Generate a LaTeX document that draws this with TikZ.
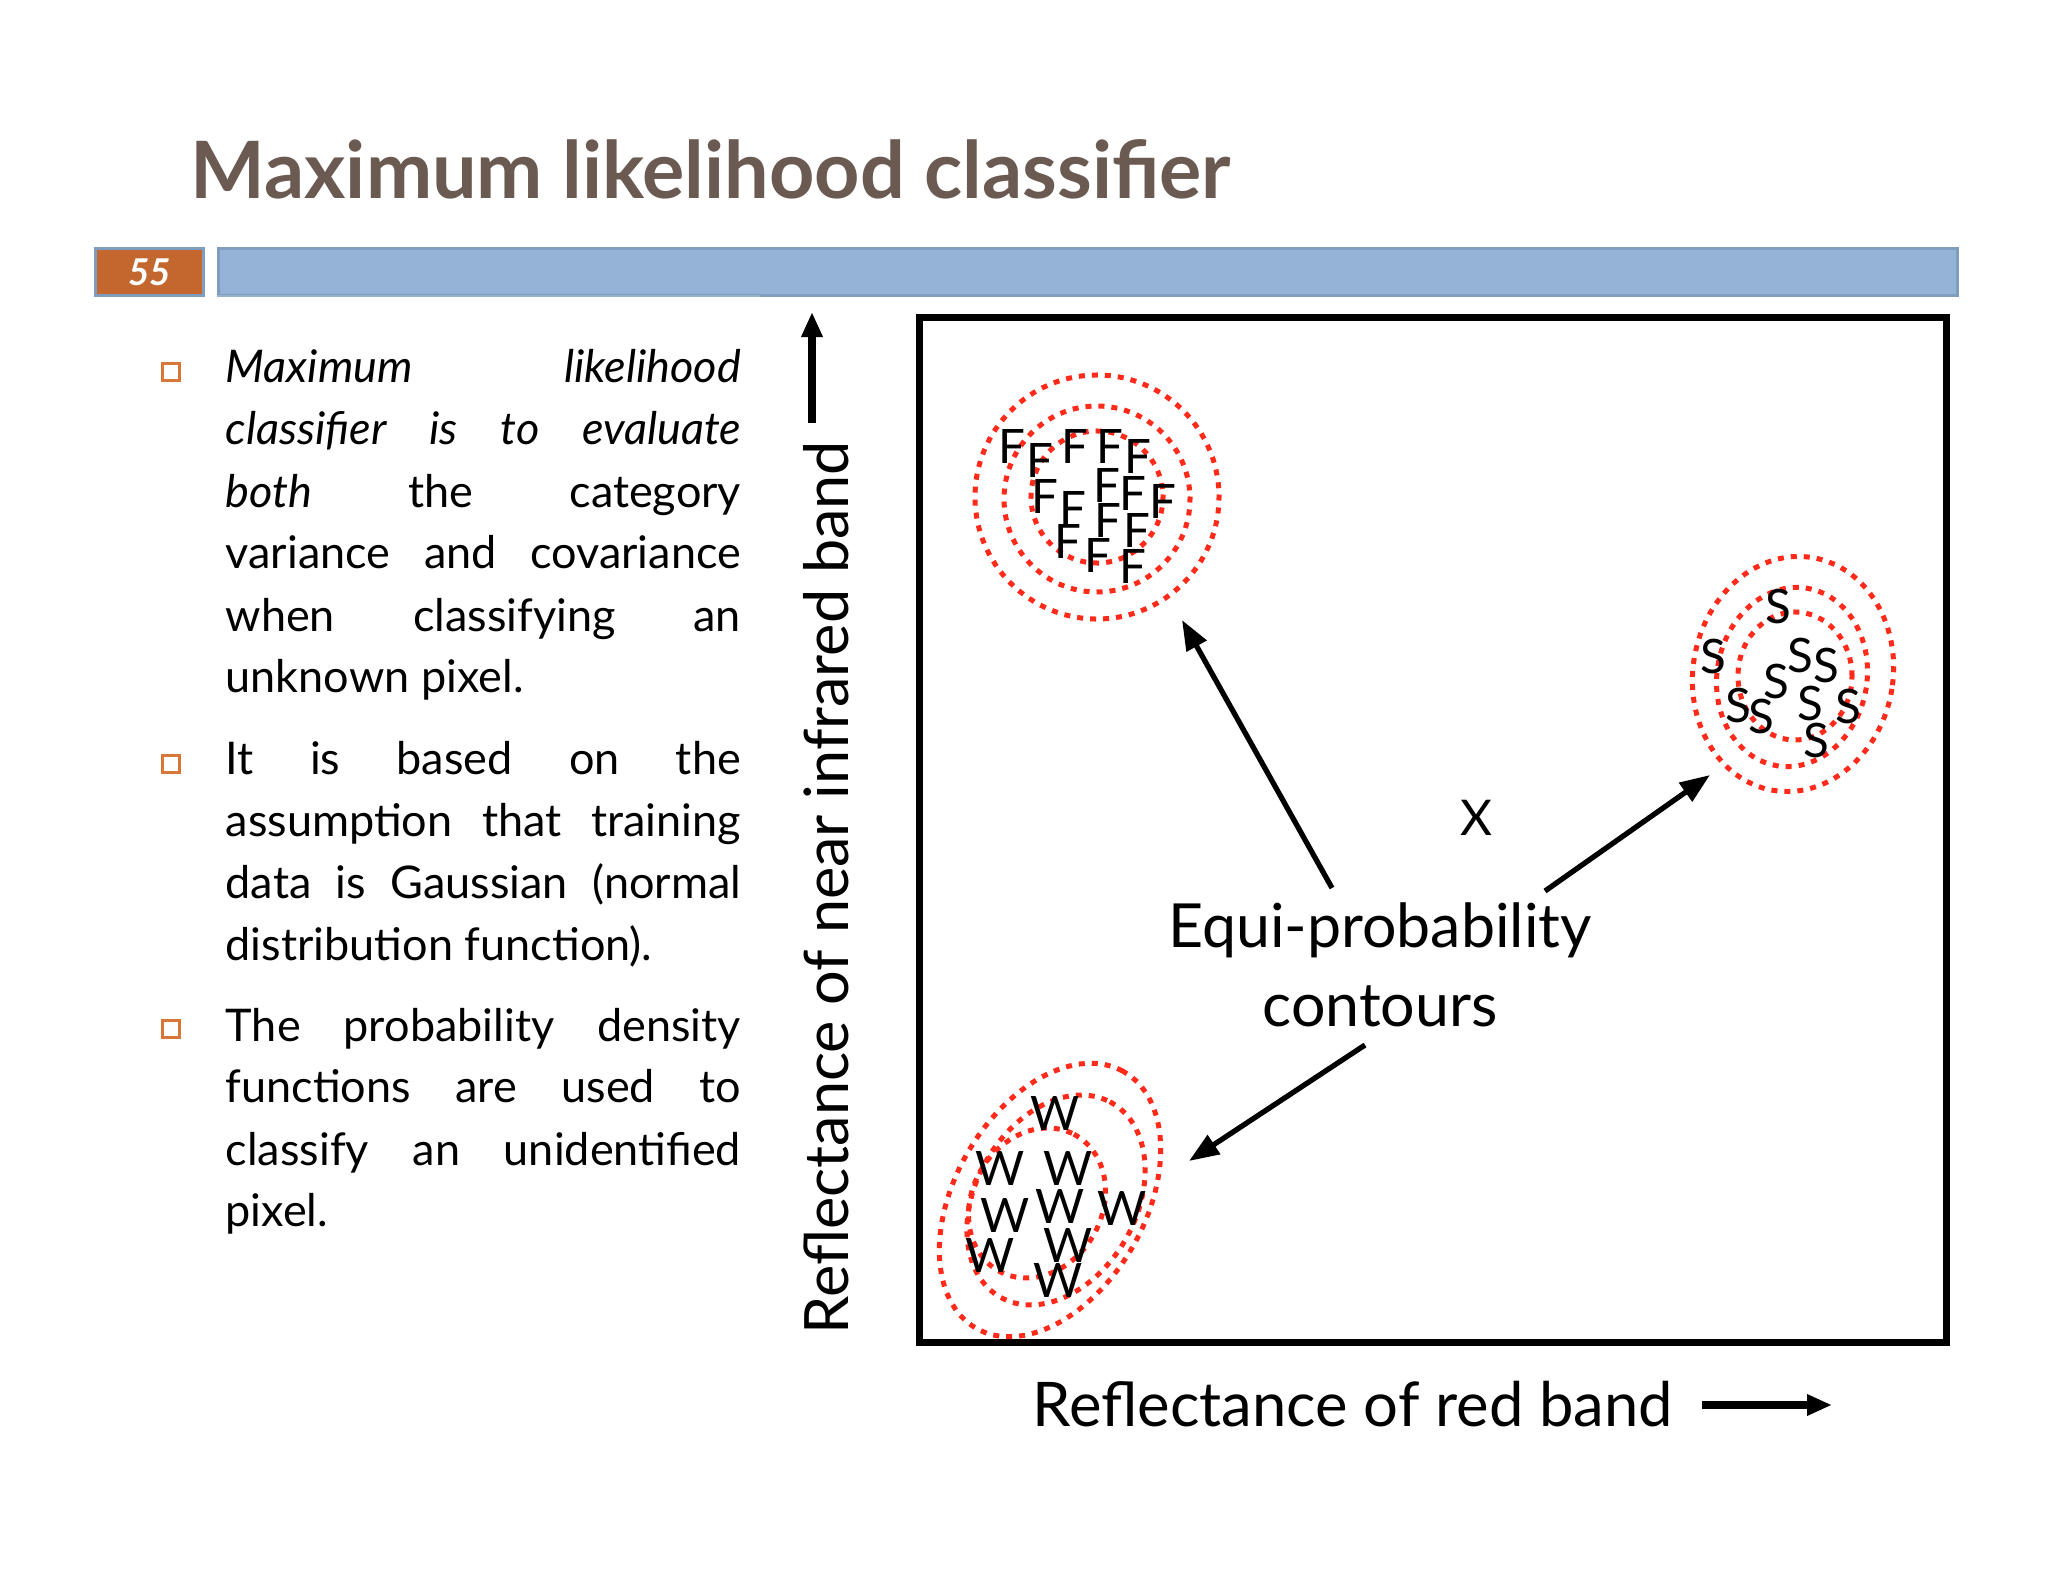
\documentclass[tikz,border=0pt]{standalone}
\usepackage{fontspec}
\setmainfont{Lato}
\usetikzlibrary{arrows.meta}
\definecolor{titlec}{HTML}{6B5A52}
\definecolor{barc}{HTML}{95B3D7}
\definecolor{barb}{HTML}{7F9DBF}
\definecolor{numc}{HTML}{C4672F}
\definecolor{bulc}{HTML}{D9773A}
\definecolor{dotc}{HTML}{FF2A1A}
\newcommand\jline[1]{\hbox to 5.15cm{\spaceskip=0.25em plus 1fil\relax #1}}
\tikzset{
  px/.style={x=0.01cm,y=-0.01cm},
  body/.style={anchor=base west,inner sep=0,font=\fontsize{12.8}{15}\selectfont},
  bul/.style={draw=bulc,line width=0.6pt,minimum size=0.17cm,inner sep=0},
  dots/.style={dotc,line width=0.05cm,dash pattern=on 0.01cm off 0.12cm,line cap=rect},
  lab/.style={inner sep=0},
  arr/.style={line width=1.5pt,-{Triangle[length=0.3cm,width=0.22cm]}},
  lt/.style={font=\fontsize{13.5}{13}\selectfont,inner sep=0}
}
\begin{document}
\begin{tikzpicture}[px]
\useasboundingbox (0,0) rectangle (2048,1582);
\fill[white] (0,0) rectangle (2048,1582);
% title
\node[anchor=base west,inner sep=0,text=titlec,font=\fontsize{22.5}{27}\selectfont\bfseries] (title) at (190,199) {Maximum likelihood classifier};
% header bars
\node[draw=barb,fill=numc,minimum width=1.08cm,minimum height=0.47cm,inner sep=0,line width=0.8pt,
  font=\fontsize{10.5}{11}\selectfont\bfseries\itshape,text=white,anchor=north west] (num) at (94,247) {55};
\node[draw=barb,fill=barc,minimum width=17.38cm,minimum height=0.47cm,inner sep=0,line width=0.8pt,anchor=north west] (bar) at (217,247) {};
\coordinate (ul1) at (217,296); \coordinate (ul2) at (760,296);
\draw[barb!80,line width=0.6pt] (ul1) -- (ul2);
% bullets
\node[bul] (b1) at (171,372) {};
\node[bul] (b2) at (171,764) {};
\node[bul] (b3) at (171,1029) {};
\node[body] (l1) at (225,383) {\itshape\jline{Maximum likelihood}};
\node[body] (l2) at (225,444) {\itshape\jline{classifier is to evaluate}};
\node[body] (l3) at (225,507) {\jline{\textit{both} the category}};
\node[body] (l4) at (225,568) {\jline{variance and covariance}};
\node[body] (l5) at (225,631) {\jline{when classifying an}};
\node[body] (l6) at (225,692) {unknown pixel.};
\node[body] (l7) at (225,774) {\jline{It is based on the}};
\node[body] (l8) at (225,836) {\jline{assumption that training}};
\node[body] (l9) at (225,898) {\jline{data is Gaussian (normal}};
\node[body] (l10) at (225,960) {distribution function).};
\node[body] (l11) at (225,1041) {\jline{The probability density}};
\node[body] (l12) at (225,1102) {\jline{functions are used to}};
\node[body] (l13) at (225,1165) {\jline{classify an unidentified}};
\node[body] (l14) at (225,1226) {pixel.};
% axes labels
\node[rotate=90,anchor=west,inner sep=0,font=\fontsize{17.4}{20}\selectfont] (ylab) at (826,1335) {Reflectance of near infrared band};
\coordinate (ya) at (812,423); \coordinate (yb) at (812,312);
\draw[line width=2.2pt,-{Triangle[length=0.25cm,width=0.2cm]}] (ya) -- (yb);
\node[anchor=base west,inner sep=0,font=\fontsize{17.5}{20}\selectfont] (xlab) at (1032,1426) {Reflectance of red band};
\coordinate (xa) at (1702,1405); \coordinate (xb) at (1832,1405);
\draw[line width=2.2pt,-{Triangle[length=0.25cm,width=0.2cm]}] (xa) -- (xb);
% frame
\node[draw,line width=2pt,minimum width=10.26cm,minimum height=10.24cm,inner sep=0,anchor=north west] (frame) at (916,314) {};
% F cluster
\draw[dots] (1097,497) circle (122);
\draw[dots] (1097,499) circle (93);
\draw[dots] (1097,497) circle (66);
\foreach \x/\y [count=\i] in {185/290,270/330,375/290,480/290,565/320,285/440,370/475,470/405,550/430,640/455,475/510,560/540,355/575,445/615,550/650}
  \node[lt] (f\i) at ({\x/3+950},{\y/3+350}) {F};
% S cluster
\draw[dots,rotate around={-10:(1793,674)}] (1793,674) ellipse (100 and 118);
\draw[dots,rotate around={-10:(1792,677)}] (1792,677) ellipse (75 and 90);
\draw[dots] (1795,676) ellipse (57 and 64);
\foreach \x/\y [count=\i] in {295/200,100/350,360/345,440/375,290/425,175/495,245/530,390/490,505/500,410/600}
  \node[lt] (s\i) at ({\x/3+1680},{\y/3+540}) {S};
% W cluster
\draw[dots,rotate around={60:(1050,1200)}] (1050,1200) ellipse (148 and 95);
\draw[dots,rotate around={60:(1056,1200)}] (1056,1200) ellipse (112 and 80);
\draw[dots,rotate around={60:(1037,1203)}] (1037,1203) ellipse (78 and 65);
\foreach \x/\y [count=\i] in {405/160,240/325,445/325,255/465,420/440,605/445,210/585,445/555,415/660}
  \node[lt] (w\i) at ({\x/3+920},{\y/3+1060}) {W};
% X and label
\node[lab,font=\fontsize{14}{14}\selectfont] (xm) at (1476,818) {X};
\node[lab,font=\fontsize{17.3}{20}\selectfont] (eq1) at (1380,930) {Equi-probability};
\node[lab,font=\fontsize{17.3}{20}\selectfont] (eq2) at (1380,1006) {contours};
\coordinate (a1) at (1332,888); \coordinate (a1e) at (1182,620);
\coordinate (a2) at (1545,891); \coordinate (a2e) at (1710,775);
\coordinate (a3) at (1365,1045); \coordinate (a3e) at (1189,1161);
\draw[arr] (a1) -- (a1e);
\draw[arr] (a2) -- (a2e);
\draw[arr] (a3) -- (a3e);
\end{tikzpicture}
\end{document}
